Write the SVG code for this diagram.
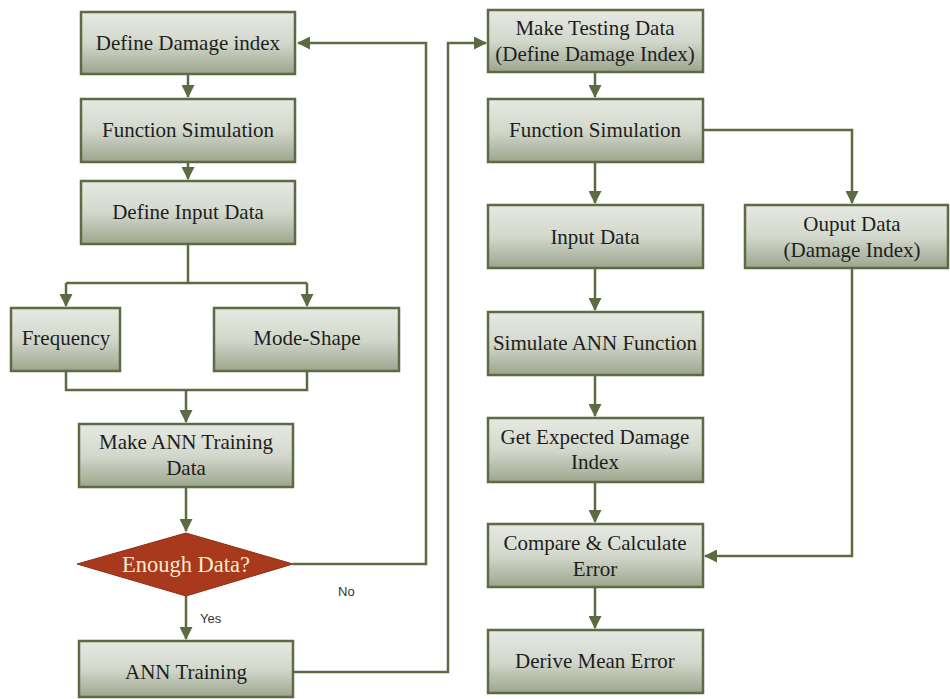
<svg xmlns="http://www.w3.org/2000/svg" width="950" height="699" viewBox="0 0 950 699">
<defs>
<linearGradient id="g" x1="0" y1="0" x2="0" y2="1">
<stop offset="0" stop-color="#E6E9E2"/>
<stop offset="0.5" stop-color="#D3D8CC"/>
<stop offset="1" stop-color="#9DA58D"/>
</linearGradient>
<marker id="ah" viewBox="0 0 13 13" refX="12" refY="6.5" markerWidth="13" markerHeight="13" markerUnits="userSpaceOnUse" orient="auto">
<path d="M0,0 L13,6.5 L0,13 Z" fill="#5E6A42"/>
</marker>
<style>
.box{fill:url(#g);stroke:#5E6A42;stroke-width:2.5}
.t{font-family:"Liberation Serif","Times New Roman",serif;font-size:21px;fill:#1E1E1E;text-anchor:middle}
.c{fill:none;stroke:#5E6A42;stroke-width:2.5}
.lbl{font-family:"Liberation Sans",Arial,sans-serif;font-size:13px;fill:#333}
</style>
</defs>
<rect width="950" height="699" fill="#FFFFFF"/>
<g id="connectors">
<path class="c" d="M188,74 V97" marker-end="url(#ah)"/>
<path class="c" d="M188,162 V179" marker-end="url(#ah)"/>
<path class="c" d="M188,244 V283 M66,283 H307"/>
<path class="c" d="M66,283 V306" marker-end="url(#ah)"/>
<path class="c" d="M307,283 V306" marker-end="url(#ah)"/>
<path class="c" d="M66,371 V390 H307 V371"/>
<path class="c" d="M186,390 V422" marker-end="url(#ah)"/>
<path class="c" d="M186,487 V531" marker-end="url(#ah)"/>
<path class="c" d="M186,596 V639" marker-end="url(#ah)"/>
<path class="c" d="M293,564 H426 V43 H298" marker-end="url(#ah)"/>
<path class="c" d="M293,672 H448 V43 H486" marker-end="url(#ah)"/>
<path class="c" d="M595,72 V97" marker-end="url(#ah)"/>
<path class="c" d="M595,162 V203" marker-end="url(#ah)"/>
<path class="c" d="M703,130 H852 V203" marker-end="url(#ah)"/>
<path class="c" d="M595,268 V310" marker-end="url(#ah)"/>
<path class="c" d="M595,375 V416" marker-end="url(#ah)"/>
<path class="c" d="M595,482 V522" marker-end="url(#ah)"/>
<path class="c" d="M852,268 V556 H705" marker-end="url(#ah)"/>
<path class="c" d="M595,587 V628" marker-end="url(#ah)"/>
<text class="lbl" x="338" y="596">No</text>
<text class="lbl" x="200" y="623">Yes</text>
</g>
<g id="define-damage-index"><rect class="box" x="81" y="12" width="214" height="62"/><text class="t" x="188" y="50">Define Damage index</text></g>
<g id="function-simulation-1"><rect class="box" x="81" y="99" width="214" height="63"/><text class="t" x="188" y="137">Function Simulation</text></g>
<g id="define-input-data"><rect class="box" x="81" y="181" width="214" height="63"/><text class="t" x="188" y="219">Define Input Data</text></g>
<g id="frequency"><rect class="box" x="11" y="308" width="109" height="63"/><text class="t" x="66" y="345">Frequency</text></g>
<g id="mode-shape"><rect class="box" x="214" y="308" width="185" height="63"/><text class="t" x="307" y="345">Mode-Shape</text></g>
<g id="make-ann-training-data"><rect class="box" x="79" y="424" width="214" height="63"/><text class="t" x="186" y="449">Make ANN Training</text><text class="t" x="186" y="475">Data</text></g>
<g id="enough-data"><polygon points="186,533 293,564 186,596 77,564" fill="#A8391D" stroke="#8E2E16" stroke-width="1"/><text class="t" x="186" y="572" style="fill:#F6E9D2;font-size:22.5px">Enough Data?</text></g>
<g id="ann-training"><rect class="box" x="79" y="641" width="214" height="56"/><text class="t" x="186" y="679">ANN Training</text></g>
<g id="make-testing-data"><rect class="box" x="488" y="10" width="215" height="62"/><text class="t" x="595" y="35">Make Testing Data</text><text class="t" x="595" y="61">(Define Damage Index)</text></g>
<g id="function-simulation-2"><rect class="box" x="488" y="99" width="215" height="63"/><text class="t" x="595" y="137">Function Simulation</text></g>
<g id="input-data"><rect class="box" x="488" y="205" width="215" height="63"/><text class="t" x="595" y="244">Input Data</text></g>
<g id="output-data"><rect class="box" x="745" y="205" width="203" height="63"/><text class="t" x="852" y="231">Ouput Data</text><text class="t" x="852" y="257">(Damage Index)</text></g>
<g id="simulate-ann-function"><rect class="box" x="488" y="312" width="215" height="63"/><text class="t" x="595" y="350">Simulate ANN Function</text></g>
<g id="get-expected-damage-index"><rect class="box" x="488" y="418" width="215" height="64"/><text class="t" x="595" y="444">Get Expected Damage</text><text class="t" x="595" y="469">Index</text></g>
<g id="compare-calculate-error"><rect class="box" x="488" y="524" width="215" height="63"/><text class="t" x="595" y="550">Compare &amp; Calculate</text><text class="t" x="595" y="576">Error</text></g>
<g id="derive-mean-error"><rect class="box" x="488" y="630" width="215" height="63"/><text class="t" x="595" y="668">Derive Mean Error</text></g>
</svg>
